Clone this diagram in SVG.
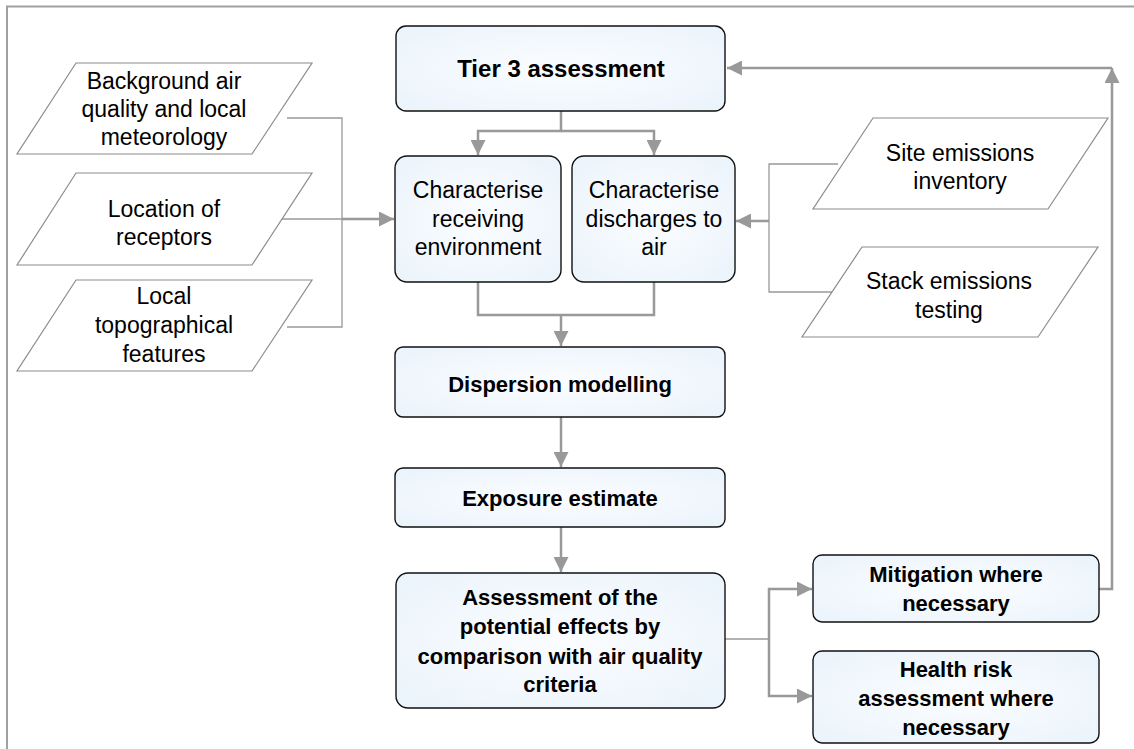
<svg xmlns="http://www.w3.org/2000/svg" width="1134" height="749" viewBox="0 0 1134 749">
<defs>
<radialGradient id="bf" cx="50%" cy="50%" r="70%">
<stop offset="0" stop-color="#fbfdff"/>
<stop offset="1" stop-color="#eaf3fb"/>
</radialGradient>
<marker id="ah" viewBox="0 0 10 10" refX="10" refY="5" markerWidth="15" markerHeight="15" markerUnits="userSpaceOnUse" orient="auto">
<path d="M0,0 L10,5 L0,10 z" fill="#999"/>
</marker>
</defs>
<style>
.box{fill:url(#bf);stroke:#111;stroke-width:1.4}
.para{fill:#fff;stroke:#8c8c8c;stroke-width:1.2}
.t{font-family:"Liberation Sans",Arial,sans-serif;font-size:22px;fill:#000;text-anchor:middle}
.b{font-weight:bold}
.r{font-size:23px}
.big{font-size:24px}
.c{fill:none;stroke:#999;stroke-width:2.5}
.thin{fill:none;stroke:#999;stroke-width:1.3}
.arr{marker-end:url(#ah)}
</style>
<rect width="1134" height="749" fill="#fff"/>
<path d="M7,760 V6.5 H1140" fill="none" stroke="#a0a0a0" stroke-width="2"/>

<g id="connectors">
<path class="c arr" d="M561,111 V131 H478 V155"/>
<path class="c arr" d="M561,131 H654 V155"/>
<path class="c" d="M478,282 V315 H654 V282"/>
<path class="c arr" d="M561,315 V346"/>
<path class="c arr" d="M561,417 V467"/>
<path class="c arr" d="M561,527 V572"/>
<path class="thin" d="M287,118 H342 V327 H287"/>
<path class="thin" d="M282,219 H342"/>
<path class="c arr" d="M342,219 H394"/>
<path class="thin" d="M838,164 H769 V292 H832"/>
<path class="c arr" d="M769,221 H736"/>
<path class="thin" d="M725,639 H769"/>
<path class="c arr" d="M769,639 V589 H812"/>
<path class="c arr" d="M769,639 V696 H812"/>
<path class="c arr" d="M1099,589 H1112 V68"/>
<path class="c arr" d="M1112,68 H727"/>
</g>

<g id="tier3">
<rect class="box" x="396" y="26" width="329" height="85" rx="10"/>
<text class="t b big" x="561" y="77">Tier 3 assessment</text>
</g>
<g id="char-receiving">
<rect class="box" x="395" y="156" width="166" height="126" rx="12"/>
<text class="t r" x="478" y="198">Characterise</text>
<text class="t r" x="478" y="227">receiving</text>
<text class="t r" x="478" y="255">environment</text>
</g>
<g id="char-discharges">
<rect class="box" x="572" y="156" width="163" height="126" rx="12"/>
<text class="t r" x="654" y="198">Characterise</text>
<text class="t r" x="654" y="227">discharges to</text>
<text class="t r" x="654" y="255">air</text>
</g>
<g id="dispersion">
<rect class="box" x="395" y="347" width="330" height="70" rx="8"/>
<text class="t b" x="560" y="392">Dispersion modelling</text>
</g>
<g id="exposure">
<rect class="box" x="395" y="468" width="330" height="59" rx="8"/>
<text class="t b" x="560" y="506">Exposure estimate</text>
</g>
<g id="assessment">
<rect class="box" x="396" y="573" width="329" height="135" rx="12"/>
<text class="t b" x="560" y="605">Assessment of the</text>
<text class="t b" x="560" y="634">potential effects by</text>
<text class="t b" x="560" y="664">comparison with air quality</text>
<text class="t b" x="560" y="692">criteria</text>
</g>
<g id="mitigation">
<rect class="box" x="813" y="555" width="286" height="67" rx="9"/>
<text class="t b" x="956" y="582">Mitigation where</text>
<text class="t b" x="956" y="611">necessary</text>
</g>
<g id="health">
<rect class="box" x="813" y="651" width="286" height="92" rx="9"/>
<text class="t b" x="956" y="677">Health risk</text>
<text class="t b" x="956" y="706">assessment where</text>
<text class="t b" x="956" y="735">necessary</text>
</g>

<g id="background-air">
<polygon class="para" points="76,63 312,63 252,154 17,154"/>
<text class="t r" x="164" y="89">Background air</text>
<text class="t r" x="164" y="117">quality and local</text>
<text class="t r" x="164" y="145">meteorology</text>
</g>
<g id="receptors">
<polygon class="para" points="76,173 312,173 252,265 17,265"/>
<text class="t r" x="164" y="217">Location of</text>
<text class="t r" x="164" y="245">receptors</text>
</g>
<g id="topography">
<polygon class="para" points="76,280 312,280 252,371 17,371"/>
<text class="t r" x="164" y="304">Local</text>
<text class="t r" x="164" y="333">topographical</text>
<text class="t r" x="164" y="362">features</text>
</g>
<g id="site-emissions">
<polygon class="para" points="873,118 1108,118 1048,209 813,209"/>
<text class="t r" x="960" y="161">Site emissions</text>
<text class="t r" x="960" y="189">inventory</text>
</g>
<g id="stack-emissions">
<polygon class="para" points="862,247 1098,247 1038,337 802,337"/>
<text class="t r" x="949" y="289">Stack emissions</text>
<text class="t r" x="949" y="318">testing</text>
</g>
</svg>
